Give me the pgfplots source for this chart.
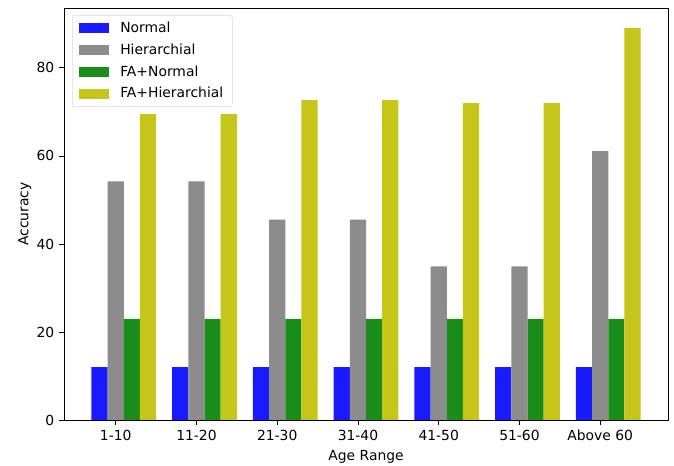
\documentclass[border=0pt]{standalone}
\usepackage{fontspec}
\setmainfont{DejaVu Sans}
\usepackage{pgfplots}
\pgfplotsset{compat=1.18}
\definecolor{cBlue}{HTML}{1A1AFF}
\definecolor{cGray}{HTML}{8C8C8C}
\definecolor{cGreen}{HTML}{1A8C1A}
\definecolor{cYellow}{HTML}{C6C61A}
\begin{document}
\begin{tikzpicture}
\begin{axis}[
  scale only axis,
  width=434.9pt, height=296.6pt,
  xmin=-0.64, xmax=6.84,
  ymin=0, ymax=93.6,
  xtick={0,1,2,3,4,5,6},
  xticklabels={1-10,11-20,21-30,31-40,41-50,51-60,Above 60},
  ytick={0,20,40,60,80},
  tick align=outside,
  tick pos=left,
  major tick length=3.5pt,
  tick style={black, line width=0.6pt},
  axis line style={line width=0.6pt},
  /pgf/number format/assume math mode=true,
  tick label style={font=\fontsize{10}{12}\selectfont},
  label style={font=\fontsize{10}{12}\selectfont},
  xlabel={Age Range},
  ylabel={Accuracy},
  xlabel style={yshift=0pt},
  ylabel style={yshift=-3pt},
  legend style={at={(0,1)}, anchor=north west, xshift=5.8pt, yshift=-5pt,
    draw=black!15, rounded corners=2pt,
    font=\fontsize{10}{12}\selectfont, row sep=2.6pt, inner xsep=4.5pt, inner ysep=2.8pt},
  legend cell align=left,
  legend image code/.code={\path[#1, draw=none, sharp corners] (0pt,-3.6pt) rectangle (21.6pt,3.6pt); \path (28pt,0pt);},
]
\coordinate (ll) at (rel axis cs:0,0);
\coordinate (ur) at (rel axis cs:1,1);
\addplot[ybar, bar width=0.2, bar shift=-0.2, fill=cBlue, draw=none] coordinates {
  (0,12) (1,12) (2,12) (3,12) (4,12) (5,12) (6,12)};
\addlegendentry{Normal}
\addplot[ybar, bar width=0.2, bar shift=0, fill=cGray, draw=none] coordinates {
  (0,54.2) (1,54.2) (2,45.5) (3,45.5) (4,34.9) (5,34.9) (6,61.1)};
\addlegendentry{Hierarchial}
\addplot[ybar, bar width=0.2, bar shift=0.2, fill=cGreen, draw=none] coordinates {
  (0,23) (1,23) (2,23) (3,23) (4,23) (5,23) (6,23)};
\addlegendentry{FA+Normal}
\addplot[ybar, bar width=0.2, bar shift=0.4, fill=cYellow, draw=none] coordinates {
  (0,69.5) (1,69.5) (2,72.7) (3,72.7) (4,72.0) (5,72.0) (6,89.1)};
\addlegendentry{FA+Hierarchial}
\end{axis}
\pgfresetboundingbox
\path ([xshift=-46.1pt,yshift=-33.1pt]ll) rectangle ([xshift=4.3pt,yshift=5.8pt]ur);
\end{tikzpicture}
\end{document}
